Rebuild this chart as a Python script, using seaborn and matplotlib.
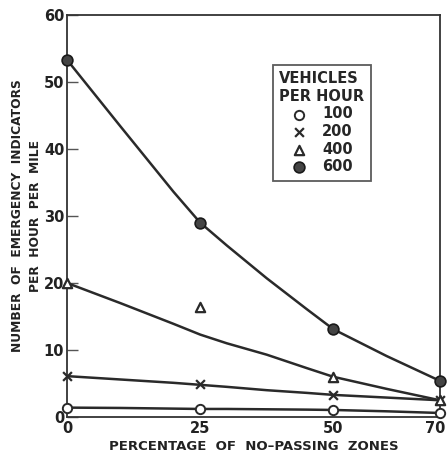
import pandas as pd
import numpy as np
import matplotlib
matplotlib.use('Agg')
import matplotlib.pyplot as plt
import matplotlib.transforms as mtrans
import seaborn as sns

# observed points (percentage of no-passing zones)
zones = [0, 25, 50, 70]
v100 = [1.4, 1.2, 1.1, 0.6]
v200 = [6.1, 4.9, 3.3, 2.5]
v400 = [20.0, 16.4, 6.0, 2.5]
v600 = [53.3, 29.0, 13.1, 5.4]

# fitted curves
curve_x = [0, 10, 20, 25, 30, 37.5, 45, 50, 60, 70]
curve100 = [1.4, 1.35, 1.25, 1.2, 1.2, 1.15, 1.1, 1.05, 0.85, 0.6]
curve200 = [6.1, 5.6, 5.1, 4.8, 4.5, 4.0, 3.6, 3.3, 2.9, 2.5]
curve400 = [20.0, 17.0, 13.9, 12.3, 11.0, 9.3, 7.3, 6.0, 4.2, 2.5]
curve600 = [53.3, 43.4, 33.6, 29.0, 25.6, 20.7, 16.1, 13.1, 9.1, 5.4]

series = ['100', '200', '400', '600']

sns.set_style('ticks')
plt.rcParams['font.family'] = ['DejaVu Sans']
plt.rcParams['font.weight'] = 'bold'

fig = plt.figure(figsize=(4.47, 4.54), dpi=100)
ax = fig.add_axes([0.150, 0.0815, 0.834, 0.8855])

ink = '#2a2a2a'

n = len(curve_x)
curves = pd.DataFrame({'x': curve_x * 4,
                       'y': curve100 + curve200 + curve400 + curve600,
                       'veh': sum([[s] * n for s in series], [])})
for s in series:
    sns.lineplot(data=curves[curves.veh == s], x='x', y='y', color=ink,
                 linewidth=1.8, ax=ax, legend=False)

pts = pd.DataFrame({'x': zones * 4,
                    'y': v100 + v200 + v400 + v600,
                    'veh': sum([[s] * len(zones) for s in series], [])})

styles = {
    '100': dict(marker='o', facecolor='white', edgecolor=ink, s=45, linewidth=1.4),
    '200': dict(marker='x', color=ink, s=40, linewidth=1.6),
    '400': dict(marker='^', facecolor='white', edgecolor=ink, s=45, linewidth=1.6),
    '600': dict(marker='o', color='#444444', edgecolor='#1a1a1a', s=60, linewidth=1.2),
}
for s in series:
    sns.scatterplot(data=pts[pts.veh == s], x='x', y='y', ax=ax, label=s,
                    zorder=5, clip_on=False, **styles[s])

ax.set_xlim(0, 70)
ax.set_ylim(0, 60)
ax.set_xticks(zones)
ax.set_xticklabels(['0', '25', '50', '70'])
ax.set_yticks([0, 10, 20, 30, 40, 50, 60])
ax.tick_params(axis='y', direction='in', length=8, width=1, colors='#555555',
               labelcolor='#222222', labelsize=10.5, pad=2)
ax.tick_params(axis='x', length=0, labelsize=10.5, labelcolor='#222222', pad=3)
for lab in ax.get_xticklabels() + ax.get_yticklabels():
    lab.set_fontweight('bold')
# keep the last x label inside the figure
last = ax.get_xticklabels()[-1]
last.set_horizontalalignment('right')
last.set_transform(last.get_transform() +
                   mtrans.ScaledTranslation(6 / 100, 0, fig.dpi_scale_trans))

for sp in ax.spines.values():
    sp.set_visible(True)
    sp.set_linewidth(1.3)
    sp.set_color('#333333')

ax.set_xlabel('PERCENTAGE  OF  NO\u2013PASSING  ZONES', fontsize=9.5,
              fontweight='bold', color='#222222', labelpad=3)
ax.set_ylabel('NUMBER  OF  EMERGENCY  INDICATORS\nPER  HOUR  PER  MILE',
              fontsize=8.8, fontweight='bold', color='#222222', labelpad=1,
              linespacing=1.55)

leg = ax.legend(title='VEHICLES\nPER HOUR', loc='upper left',
                bbox_to_anchor=(0.552, 0.876), borderaxespad=0, frameon=True,
                fancybox=False, edgecolor='#333333', fontsize=10.5,
                title_fontsize=10.5, handletextpad=1.1, labelspacing=0.18,
                borderpad=0.45, handlelength=1.0)
leg.get_frame().set_linewidth(1.3)
leg.get_title().set_fontweight('bold')
for t in leg.get_texts():
    t.set_fontweight('bold')

fig.savefig('out.png', dpi=100)
